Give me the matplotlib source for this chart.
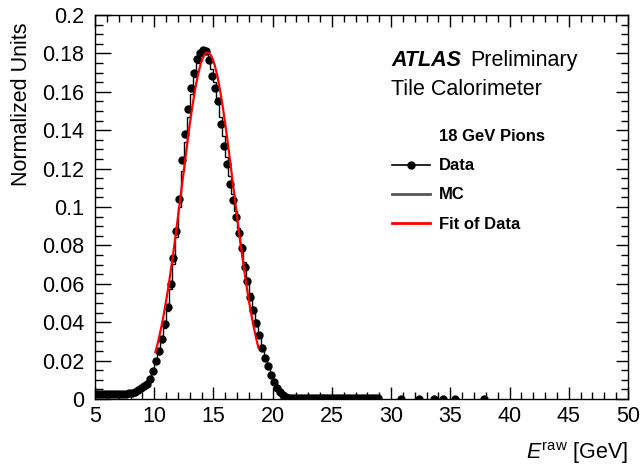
import numpy as np
import matplotlib
matplotlib.use("Agg")
import matplotlib.pyplot as plt
from matplotlib.lines import Line2D
from matplotlib.ticker import MultipleLocator, FixedLocator

plt.rcParams['font.family'] = ['Liberation Sans', 'DejaVu Sans']
plt.rcParams['mathtext.fontset'] = 'custom'
plt.rcParams['mathtext.rm'] = 'Liberation Sans'
plt.rcParams['mathtext.it'] = 'Liberation Sans:italic'

# ---------------- data ----------------
bin_width = 0.25
bin_start = 5.0
data_y = [
    0.0028, 0.0026, 0.0025, 0.0025, 0.0024, 0.0024, 0.0024, 0.0025, 0.0025, 0.0026, 0.0028, 0.0030,
    0.0033, 0.0038, 0.0045, 0.0055, 0.0066, 0.0080, 0.0105, 0.0145,
    0.0200, 0.0250, 0.0310, 0.0390, 0.0480, 0.0600, 0.0735, 0.0875,
    0.1040, 0.1245, 0.1380, 0.1510, 0.1620, 0.1700, 0.1770, 0.1800,
    0.1818, 0.1812, 0.1765, 0.1680, 0.1620, 0.1550, 0.1430, 0.1320,
    0.1225, 0.1120, 0.1035, 0.0950, 0.0865, 0.0785, 0.0690, 0.0615,
    0.0530, 0.0465, 0.0395, 0.0335, 0.0265, 0.0215, 0.0170, 0.0125,
    0.0090, 0.0058, 0.0037, 0.0022, 0.0012, 0.0007, 0.0005, 0.0004,
    0.0004, 0.0003, 0.0003, 0.0003, 0.0003, 0.0003, 0.0003, 0.0003,
    0.0003, 0.0003, 0.0003, 0.0003, 0.0003, 0.0003, 0.0003, 0.0003,
    0.0003, 0.0003, 0.0003, 0.0003, 0.0003, 0.0003, 0.0003, 0.0003,
    0.0003, 0.0003, 0.0003, 0.0003,
]
tail_E = [30.875, 32.375, 33.625, 34.375, 35.375, 37.875]
tail_y = [0.0002, 0.0002, 0.0002, 0.0002, 0.0002, 0.0002]

mc_y = [
    0.0022, 0.0022, 0.0022, 0.0022, 0.0022, 0.0022, 0.0023, 0.0023, 0.0024, 0.0025, 0.0027, 0.0029,
    0.0032, 0.0036, 0.0042, 0.0050, 0.0060, 0.0075, 0.0098, 0.0135,
    0.0185, 0.0235, 0.0295, 0.0370, 0.0460, 0.0575, 0.0705, 0.0845,
    0.1000, 0.1190, 0.1340, 0.1470, 0.1590, 0.1675, 0.1750, 0.1790,
    0.1810, 0.1805, 0.1780, 0.1720, 0.1650, 0.1570, 0.1470, 0.1370,
    0.1260, 0.1160, 0.1070, 0.0980, 0.0890, 0.0805, 0.0715, 0.0630,
    0.0550, 0.0480, 0.0410, 0.0345, 0.0280, 0.0225, 0.0178, 0.0135,
    0.0098, 0.0068, 0.0045, 0.0028, 0.0016, 0.0009, 0.0005, 0.0003,
    0.0002, 0.0002, 0.0001, 0.0001, 0.0001, 0.0001, 0.0001, 0.0001,
    0.0001, 0.0001, 0.0001, 0.0001, 0.0001, 0.0001, 0.0001, 0.0001,
    0.0001, 0.0001, 0.0001, 0.0001, 0.0001, 0.0001, 0.0001, 0.0001,
    0.0001, 0.0001, 0.0001, 0.0001,
]

# Gaussian fit parameters (fit of data)
fit_amp = 0.1805
fit_mean = 14.5
fit_sigma = 2.2
fit_range = (10.1, 18.8)

x_ticks = [5, 10, 15, 20, 25, 30, 35, 40, 45, 50]
y_ticks = [0, 0.02, 0.04, 0.06, 0.08, 0.1, 0.12, 0.14, 0.16, 0.18, 0.2]
y_tick_labels = ['0', '0.02', '0.04', '0.06', '0.08', '0.1', '0.12', '0.14', '0.16', '0.18', '0.2']

# ---------------- figure ----------------
W, H = 644, 467
fig = plt.figure(figsize=(W / 100, H / 100), dpi=100)
L, R, T, B = 95, 628, 15, 399
ax = fig.add_axes([L / W, 1 - B / H, (R - L) / W, (B - T) / H])

n = len(data_y)
edges = bin_start + bin_width * np.arange(n + 1)
centers = 0.5 * (edges[:-1] + edges[1:])

ax.stairs(mc_y, edges, color='black', lw=1.0, zorder=2)
ax.plot(centers, data_y, 'o', color='black', ms=5.0, zorder=3)
ax.plot(tail_E, tail_y, 'o', color='black', ms=5.0, zorder=3)

xf = np.linspace(fit_range[0], fit_range[1], 300)
yf = fit_amp * np.exp(-0.5 * ((xf - fit_mean) / fit_sigma) ** 2)
ax.plot(xf, yf, color='#ff0000', lw=1.6, zorder=4)

ax.set_xlim(5, 50)
ax.set_ylim(0, 0.2)
ax.xaxis.set_major_locator(FixedLocator(x_ticks))
ax.xaxis.set_minor_locator(MultipleLocator(1))
ax.yaxis.set_major_locator(FixedLocator(y_ticks))
ax.set_yticklabels(y_tick_labels)
ax.yaxis.set_minor_locator(MultipleLocator(0.005))

ax.tick_params(axis='both', which='both', direction='in', labelsize=15.5, width=1.0)
ax.tick_params(axis='x', which='major', length=8.6, pad=5, top=True)
ax.tick_params(axis='x', which='minor', length=4.7, top=True)
ax.tick_params(axis='y', which='major', length=11.5, pad=8, right=False)
ax.tick_params(axis='y', which='minor', length=6.0, right=False)

sec = ax.secondary_yaxis('right')
sec.yaxis.set_major_locator(FixedLocator(y_ticks))
sec.yaxis.set_minor_locator(MultipleLocator(0.005))
sec.tick_params(axis='y', which='major', direction='in', length=8.4, labelright=False, width=1.0)
sec.tick_params(axis='y', which='minor', direction='in', length=4.8, labelright=False, width=1.0)
sec.spines['right'].set_visible(False)

for s in ax.spines.values():
    s.set_linewidth(1.0)

def fx(px):
    return px / W

def fy(py):
    return 1 - py / H

# axis titles
fig.text(fx(628), fy(459), r'$E^{\mathrm{raw}}$ [GeV]', ha='right', va='baseline', fontsize=15.5)
fig.text(fx(22), fy(23), 'Normalized Units', rotation=90, ha='center', va='top', fontsize=15.5)

# ATLAS label
fig.text(fx(391), fy(66), 'ATLAS', fontsize=15.5, fontweight='bold', fontstyle='italic', va='baseline')
fig.text(fx(470), fy(66), 'Preliminary', fontsize=15.5, va='baseline')
fig.text(fx(391), fy(95), 'Tile Calorimeter', fontsize=15.5, va='baseline')

# legend
fig.text(fx(439), fy(141), '18 GeV Pions', fontsize=12, fontweight='bold', va='baseline')
leg_rows = [
    ('Data', 165, 170, '#000000', 1.2, True),
    ('MC', 194, 199, '#555555', 2.0, False),
    ('Fit of Data', 223, 229, '#ff0000', 2.0, False),
]
for label, ly, by, col, lw, has_marker in leg_rows:
    fig.add_artist(Line2D([fx(392), fx(430)], [fy(ly), fy(ly)], transform=fig.transFigure,
                          color=col, lw=lw))
    if has_marker:
        fig.add_artist(Line2D([fx(411)], [fy(ly)], transform=fig.transFigure, ls='none',
                              marker='o', color=col, ms=5.0))
    fig.text(fx(439), fy(by), label, fontsize=12, fontweight='bold', va='baseline')

fig.savefig('out.png', dpi=100)
